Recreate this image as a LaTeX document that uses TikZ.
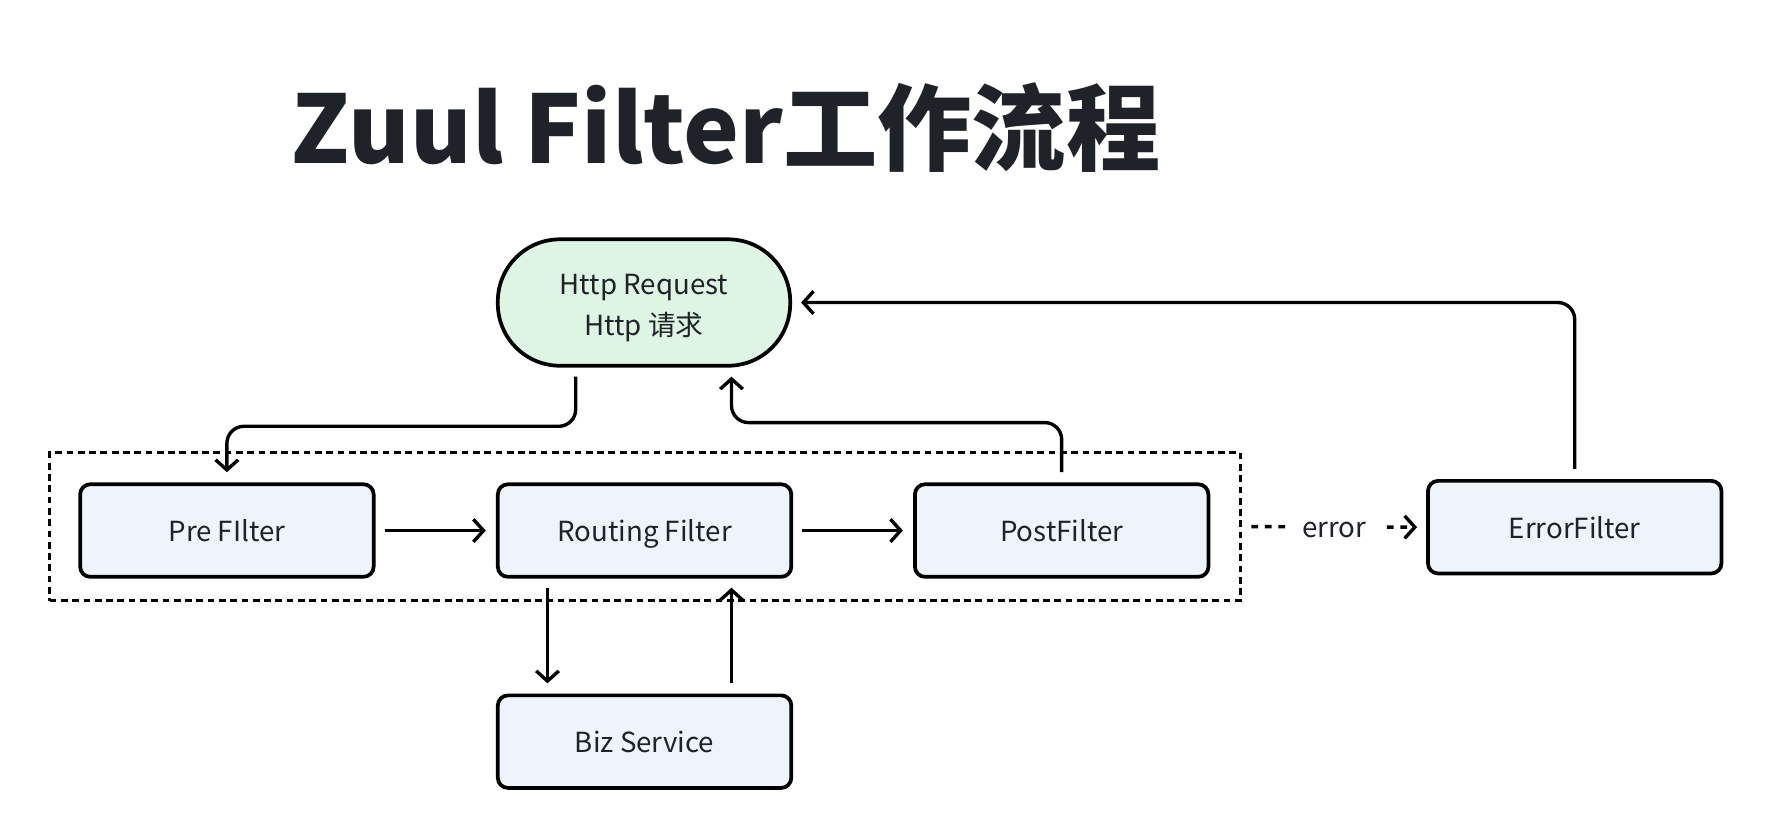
\documentclass[tikz,border=0pt]{standalone}
\usepackage{fontspec}
\setmainfont{Noto Sans CJK SC}
\usetikzlibrary{arrows.meta,calc}
\definecolor{txt}{HTML}{1F2329}
\definecolor{greenfill}{HTML}{DFF5E3}
\definecolor{bluefill}{HTML}{EEF3FC}
\begin{document}
\begin{tikzpicture}[x=1pt,y=-1pt,
  box/.style={draw=black, line width=3.3pt, fill=bluefill, rounded corners=9pt,
    minimum width=260pt, minimum height=82pt, inner sep=0pt, text=txt,
    text height=20pt, text depth=0pt,
    font=\fontsize{24.5}{30}\selectfont},
  pill/.style={draw=black, line width=3.3pt, fill=greenfill, rounded corners=55pt,
    minimum width=259pt, minimum height=112pt, inner sep=0pt},
  pilltext/.style={align=center, text=txt, font=\fontsize{24.5}{36}\selectfont},
  arr/.style={draw=black, line width=3pt, -{Straight Barb[length=9pt,width=20pt]}},
  grp/.style={draw=black, line width=3pt, dash pattern=on 6pt off 4pt, inner sep=0pt},
  lbl/.style={fill=white, text=txt, font=\fontsize{24.5}{30}\selectfont, inner xsep=13pt,
    text height=19pt, text depth=0pt}
  ]
\useasboundingbox (0,0) rectangle (1568,741);
\node[anchor=base west, text=txt, font=\fontsize{83.5}{96}\selectfont\bfseries] (title) at (255,145) {Zuul Filter工作流程};

\node[pill, label={[pilltext, yshift=-5pt]center:Http Request\\Http 请求}] (http) at (570.5,268) {};
\node[box] (pre) at (201,470) {Pre FIlter};
\node[box] (routing) at (571,470) {Routing Filter};
\node[box] (post) at (940.5,470) {PostFilter};
\node[box] (error) at (1395,467) {ErrorFilter};
\node[box] (biz) at (571,657) {Biz Service};
\node[grp, minimum width=1055pt, minimum height=131pt] (group) at (571.5,466.5) {};

\draw[arr, rounded corners=15pt] ([xshift=-60.5pt,yshift=-8pt]http.south) -- ++(0,44) -| ([yshift=9pt]pre.north);
\draw[arr, rounded corners=15pt] ([yshift=9pt]post.north) -- ++(0,-44) -| ([xshift=77.5pt,yshift=-8pt]http.south);
\draw[arr, shorten <=8pt, shorten >=9pt] (pre) -- (routing);
\draw[arr, shorten <=8pt, shorten >=9pt] (routing) -- (post);
\draw[arr] ([xshift=-86pt,yshift=-8pt]routing.south) -- ([xshift=-86pt,yshift=9pt]biz.north);
\draw[arr] ([xshift=77pt,yshift=9pt]biz.north) -- ([xshift=77pt,yshift=-8pt]routing.south);
\draw[arr, dash pattern=on 6pt off 6pt] ([xshift=8pt]group.east) -- node[lbl] (errlbl) {error} ([xshift=-8pt]error.west);
\draw[arr, rounded corners=15pt] ([yshift=9pt]error.north) |- ([xshift=8pt]http.east);
\end{tikzpicture}
\end{document}
